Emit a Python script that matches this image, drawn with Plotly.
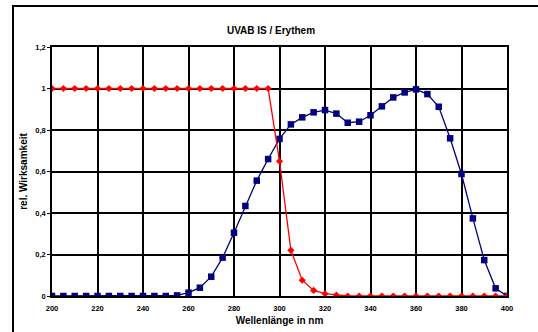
import plotly.graph_objects as go

wl = list(range(200, 405, 5))
erythem = [1.0]*20 + [0.65, 0.22, 0.076, 0.027, 0.011, 0.004] + [0.0]*15
uvab = [0.0, 0.0, 0.0, 0.0, 0.0, 0.0, 0.0, 0.0, 0.0, 0.0, 0.0, 0.003,
        0.016, 0.04, 0.093, 0.185, 0.305, 0.434, 0.556, 0.66, 0.757,
        0.827, 0.861, 0.885, 0.896, 0.879, 0.835, 0.84, 0.871, 0.914,
        0.957, 0.981, 0.996, 0.973, 0.912, 0.76, 0.588, 0.374, 0.173,
        0.037, 0.0]
xticks = list(range(200, 420, 20))
yticks = [0, 0.2, 0.4, 0.6, 0.8, 1.0, 1.2]
ytext = ["0", "0,2", "0,4", "0,6", "0,8", "1", "1,2"]

L, R, T, B = 52, 31, 47, 36
pw, ph = 538 - L - R, 332 - T - B

fig = go.Figure()
fig.add_trace(go.Scatter(x=wl, y=uvab, mode="lines+markers",
                         line=dict(color="#000080", width=1.3),
                         marker=dict(symbol="square", size=6.5, color="#000080")))
fig.add_trace(go.Scatter(x=wl, y=erythem, mode="lines+markers",
                         line=dict(color="#FF0000", width=1.3),
                         marker=dict(symbol="diamond", size=5.5, color="#FF0000")))

fig.update_layout(
    width=538, height=332,
    margin=dict(l=L, r=R, t=T, b=B, autoexpand=False),
    paper_bgcolor="white", plot_bgcolor="white",
    showlegend=False,
    font=dict(family="Liberation Sans, Arial, sans-serif", color="black"),
    title=dict(text="<b>UVAB IS / Erythem</b>", x=271/538, xanchor="center",
               y=1 - 30/332, yanchor="middle", font=dict(size=10)),
    shapes=[dict(type="rect", xref="paper", yref="paper",
                 x0=(13 - L)/pw, x1=(900 - L)/pw,
                 y0=-(B + 100)/ph, y1=1 + (T - 6)/ph,
                 line=dict(color="black", width=2))],
)
fig.update_xaxes(range=[200, 400], tickvals=xticks,
                 ticktext=[f"<b>{v}</b>" for v in xticks],
                 tickfont=dict(size=7.5), showgrid=True, gridcolor="black",
                 gridwidth=1.5, zeroline=False, showline=True, linecolor="black",
                 linewidth=1.5, mirror=True, ticks="outside", ticklen=4,
                 tickcolor="rgba(0,0,0,0)", automargin=False,
                 title=dict(text="<b>Wellenlänge in nm</b>", font=dict(size=10),
                            standoff=5))
fig.update_yaxes(range=[0, 1.2], tickvals=yticks,
                 ticktext=[f"<b>{t}</b>" for t in ytext],
                 tickfont=dict(size=7.5), showgrid=True, gridcolor="black",
                 gridwidth=1.5, zeroline=False, showline=True, linecolor="black",
                 linewidth=1.5, mirror=True, ticks="outside", ticklen=3,
                 tickcolor="black", automargin=False,
                 title=dict(text="<b>rel. Wirksamkeit</b>", font=dict(size=10),
                            standoff=6))
fig.write_html("out.html", config={"displayModeBar": False},
               post_script="document.body.style.margin='0';"
                           "document.body.style.overflow='hidden';")
